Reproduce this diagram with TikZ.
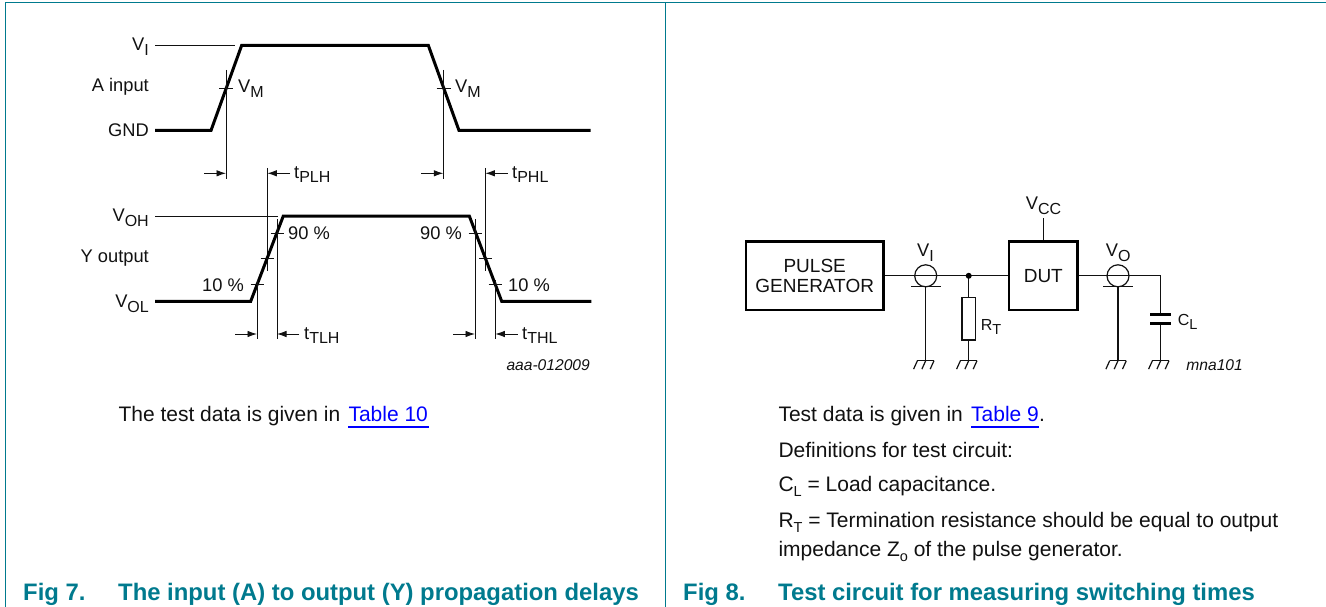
\documentclass[tikz,border=0pt]{standalone}
\usepackage{fontspec}
\setmainfont{Liberation Sans}
\usetikzlibrary{arrows.meta}
\definecolor{nxpteal}{HTML}{007A8E}
\definecolor{linkblue}{HTML}{0000FF}
\definecolor{inkc}{HTML}{111111}
\newcommand{\lsub}[1]{\raisebox{-4.5pt}{\fontsize{16}{16}\selectfont #1}}
\newcommand{\bsub}[1]{\raisebox{-4.5pt}{\fontsize{14.5}{14.5}\selectfont #1}}
\tikzset{
  x=1pt,y=-1pt,
  frameline/.style={draw=nxpteal,line width=1.2pt},
  thinl/.style={draw=inkc,line width=0.95pt},
  thickl/.style={draw=black,line width=3pt,line join=miter},
  dimarrow/.style={draw=inkc,line width=0.95pt,-{Latex[length=9.5pt,width=6.5pt]}},
  wire/.style={draw=inkc,line width=1.2pt},
  boxn/.style={draw=black,line width=2.6pt,inner sep=0pt,align=center,font=\fontsize{19}{20.6}\selectfont,text=inkc},
  lab/.style={inner sep=0pt,text=inkc,font=\fontsize{18.3}{20}\selectfont},
  labr/.style={lab,anchor=base east},
  labl/.style={lab,anchor=base west},
  codetxt/.style={inner sep=0pt,anchor=base east,text=inkc,font=\fontsize{15.6}{16}\selectfont\itshape},
  bodytxt/.style={inner sep=0pt,anchor=base west,text=inkc,font=\fontsize{21}{21}\selectfont},
  captxt/.style={inner sep=0pt,anchor=base west,text=nxpteal,font=\fontsize{23.85}{24}\selectfont\bfseries},
  probe/.style={circle,draw=inkc,line width=1.2pt,minimum size=22pt,inner sep=0pt},
  pics/gnd/.style={code={
    \draw[wire] (-8.3,0) -- (8.3,0);
    \foreach \q in {-8.3,0,8.3}{\draw[wire] (\q,0) -- ++(-3.8,8.4);}
  }}
}
\begin{document}
\begin{tikzpicture}
\useasboundingbox (0,0) rectangle (1326,607);
% frame
\coordinate (tl) at (5.3,2.7);
\coordinate (tr) at (1326,2.7);
\coordinate (tm) at (665.5,2.7);
\coordinate (bl) at (5.3,607);
\coordinate (bm) at (665.5,607);
\draw[frameline] (bl) -- (tl) -- (tr);
\draw[frameline] (tm) -- (bm);

% ---------- input waveform
\coordinate (i0) at (155,130.5);
\coordinate (i1) at (211,130.5);
\coordinate (i2) at (241.7,45.3);
\coordinate (i3) at (428.3,45.3);
\coordinate (i4) at (459,130.5);
\coordinate (i5) at (590.7,130.5);
\draw[thickl] (i0) -- (i1) -- (i2) -- (i3) -- (i4) -- (i5);
\coordinate (viA) at (155,45.3);
\coordinate (viB) at (234.5,45.3);
\draw[thinl] (viA) -- (viB);
\node[labr] (nVI) at (149,51) {V\lsub{I}};
\node[labr] (nA) at (149,92) {A input};
\node[labr] (nGND) at (149,136.5) {GND};
\node[labl] (nVM1) at (238,93) {V\lsub{M}};
\node[labl] (nVM2) at (455,93) {V\lsub{M}};
% input measures
\coordinate (a1t) at (226,70); \coordinate (a1b) at (226,178.7);
\draw[thinl] (a1t) -- (a1b);
\coordinate (a1l) at (219,88); \coordinate (a1r) at (233,88);
\draw[thinl] (a1l) -- (a1r);
\coordinate (a2t) at (443.3,70); \coordinate (a2b) at (443.3,178.7);
\draw[thinl] (a2t) -- (a2b);
\coordinate (a2l) at (436.7,88); \coordinate (a2r) at (450.7,88);
\draw[thinl] (a2l) -- (a2r);
\coordinate (p1t) at (267.3,168); \coordinate (p1b) at (267.3,271);
\draw[thinl] (p1t) -- (p1b);
\coordinate (p2t) at (485.3,168); \coordinate (p2b) at (485.3,271);
\draw[thinl] (p2t) -- (p2b);
\coordinate (d1s) at (204,173.3); \coordinate (d1e) at (226,173.3);
\draw[dimarrow] (d1s) -- (d1e);
\coordinate (d2s) at (290,173.3); \coordinate (d2e) at (267.3,173.3);
\draw[dimarrow] (d2s) -- (d2e);
\coordinate (d3s) at (421,173.3); \coordinate (d3e) at (443.3,173.3);
\draw[dimarrow] (d3s) -- (d3e);
\coordinate (d4s) at (507.7,173.3); \coordinate (d4e) at (485.3,173.3);
\draw[dimarrow] (d4s) -- (d4e);
\node[labl] (ntPLH) at (294,178.5) {t\lsub{PLH}};
\node[labl] (ntPHL) at (512,178.5) {t\lsub{PHL}};

% ---------- output waveform
\coordinate (o0) at (155,301.3);
\coordinate (o1) at (250.7,301.3);
\coordinate (o2) at (283.3,216);
\coordinate (o3) at (469.3,216);
\coordinate (o4) at (501.7,301.3);
\coordinate (o5) at (591.3,301.3);
\draw[thickl] (o0) -- (o1) -- (o2) -- (o3) -- (o4) -- (o5);
\coordinate (vohA) at (155,216);
\coordinate (vohB) at (278,216);
\draw[thinl] (vohA) -- (vohB);
\node[labr] (nVOH) at (149,222) {V\lsub{OH}};
\node[labr] (nY) at (149,262) {Y output};
\node[labr] (nVOL) at (149,307.5) {V\lsub{OL}};
\node[labl] (n90a) at (288,239.5) {90 \%};
\node[labr] (n90b) at (462,239.5) {90 \%};
\node[labr] (n10a) at (244,291) {10 \%};
\node[labl] (n10b) at (508,291) {10 \%};
% rising measures
\coordinate (r9t) at (277,219); \coordinate (r9b) at (277,339);
\draw[thinl] (r9t) -- (r9b);
\coordinate (r1t) at (257,280); \coordinate (r1b) at (257,339);
\draw[thinl] (r1t) -- (r1b);
\coordinate (t1l) at (270.7,233.3); \coordinate (t1r) at (284,233.3);
\draw[thinl] (t1l) -- (t1r);
\coordinate (t2l) at (260.7,258.3); \coordinate (t2r) at (274,258.3);
\draw[thinl] (t2l) -- (t2r);
\coordinate (t3l) at (250.7,284.7); \coordinate (t3r) at (264,284.7);
\draw[thinl] (t3l) -- (t3r);
% falling measures
\coordinate (f9t) at (475,219); \coordinate (f9b) at (475,339);
\draw[thinl] (f9t) -- (f9b);
\coordinate (f1t) at (495.3,280); \coordinate (f1b) at (495.3,339);
\draw[thinl] (f1t) -- (f1b);
\coordinate (t4l) at (468.7,233.3); \coordinate (t4r) at (482,233.3);
\draw[thinl] (t4l) -- (t4r);
\coordinate (t5l) at (479,258.3); \coordinate (t5r) at (492.3,258.3);
\draw[thinl] (t5l) -- (t5r);
\coordinate (t6l) at (488.7,284.7); \coordinate (t6r) at (502,284.7);
\draw[thinl] (t6l) -- (t6r);
\coordinate (e1s) at (235,334); \coordinate (e1e) at (257,334);
\draw[dimarrow] (e1s) -- (e1e);
\coordinate (e2s) at (299.3,334); \coordinate (e2e) at (277,334);
\draw[dimarrow] (e2s) -- (e2e);
\coordinate (e3s) at (453.3,334); \coordinate (e3e) at (475,334);
\draw[dimarrow] (e3s) -- (e3e);
\coordinate (e4s) at (517.7,334); \coordinate (e4e) at (495.3,334);
\draw[dimarrow] (e4s) -- (e4e);
\node[labl] (ntTLH) at (304,339) {t\lsub{TLH}};
\node[labl] (ntTHL) at (522,339) {t\lsub{THL}};
\node[codetxt] (ncode1) at (590,370) {aaa-012009};

% ---------- left text
\node[bodytxt] (ltext) at (118.3,421.7) {The test data is given in};
\node[bodytxt,text=linkblue] (llink) at (348.3,421.7) {Table 10};
\coordinate (lu1) at (348.3,427); \coordinate (lu2) at (429,427);
\draw[draw=linkblue,line width=1.3pt] (lu1) -- (lu2);
\node[captxt] (fig7) at (23,600.4) {Fig 7.};
\node[captxt] (fig7t) at (118,600.4) {The input (A) to output (Y) propagation delays};

% ---------- circuit
\node[boxn,minimum width=137.3pt,minimum height=68.3pt] (pg) at (814.7,275.8) {PULSE\\GENERATOR};
\node[boxn,minimum width=68.7pt,minimum height=68.3pt] (dut) at (1043.3,275.8) {DUT};
\node[probe] (pi) at (925.7,275.8) {};
\node[probe] (po) at (1118,275.8) {};
\coordinate (j) at (968.7,275.8);
\coordinate (vcc) at (1043.3,217.7);
\coordinate (capn) at (1160.7,275.8);
\coordinate (bi) at (925.7,286.4);
\coordinate (bo) at (1118,286.4);
\coordinate (bil) at (911,286.4); \coordinate (bir) at (940.7,286.4);
\coordinate (bol) at (1103.3,286.4); \coordinate (bor) at (1132.7,286.4);
\coordinate (g1) at (925.7,360.7);
\coordinate (g2) at (968.7,360.7);
\coordinate (g3) at (1118,360.7);
\coordinate (g4) at (1160.7,360.7);
\node[draw=inkc,line width=1.2pt,minimum width=13.3pt,minimum height=42.7pt,inner sep=0pt] (rt) at (968.7,318.7) {};
\coordinate (c1) at (1160.7,314);
\coordinate (c2) at (1160.7,323);
\coordinate (c1l) at (1150,314); \coordinate (c1r) at (1171.3,314);
\coordinate (c2l) at (1150,323); \coordinate (c2r) at (1171.3,323);
\draw[wire] (pg.east) -- (pi.center) -- (j) -- (dut.west);
\draw[wire] (dut.east) -- (po.center) -- (capn) -- (c1);
\draw[wire] (c2) -- (g4);
\draw[wire] (dut.north) -- (vcc);
\draw[wire] (j) -- (rt.north);
\draw[wire] (rt.south) -- (g2);
\draw[wire] (bi) -- (g1);
\draw[wire] (bo) -- (g3);
\draw[wire] (bil) -- (bir);
\draw[wire] (bol) -- (bor);
\draw[draw=black,line width=3pt] (c1l) -- (c1r);
\draw[draw=black,line width=3pt] (c2l) -- (c2r);
\fill[black] (j) circle (3);
\pic at (g1) {gnd};
\pic at (g2) {gnd};
\pic at (g3) {gnd};
\pic at (g4) {gnd};
\node[labl] (nVIc) at (917,256.7) {V\lsub{I}};
\node[labl] (nVO) at (1105.7,256.7) {V\lsub{O}};
\node[labl] (nVCC) at (1025.7,210) {V\lsub{CC}};
\node[labl,font=\fontsize{16}{16}\selectfont] (nRT) at (980.7,330.7) {R\raisebox{-4pt}{\fontsize{14.5}{14.5}\selectfont T}};
\node[labl,font=\fontsize{16}{16}\selectfont] (nCL) at (1177.7,325) {C\raisebox{-4pt}{\fontsize{14.5}{14.5}\selectfont L}};
\node[codetxt] (ncode2) at (1243,370) {mna101};

% ---------- right text
\node[bodytxt] (rt1) at (778.3,421.7) {Test data is given in};
\node[bodytxt,text=linkblue] (rlink) at (971,421.7) {Table 9};
\node[bodytxt] (rdot) at (1039,421.7) {.};
\coordinate (ru1) at (971,427); \coordinate (ru2) at (1039,427);
\draw[draw=linkblue,line width=1.3pt] (ru1) -- (ru2);
\node[bodytxt] (rt2) at (778.3,457) {Definitions for test circuit:};
\node[bodytxt] (rt3) at (778.3,491.7) {C\bsub{L} = Load capacitance.};
\node[bodytxt] (rt4) at (778.3,527.7) {R\bsub{T} = Termination resistance should be equal to output};
\node[bodytxt] (rt5) at (778.3,556.7) {impedance Z\bsub{o} of the pulse generator.};
\node[captxt] (fig8) at (683,600.4) {Fig 8.};
\node[captxt] (fig8t) at (778,600.4) {Test circuit for measuring switching times};
\end{tikzpicture}
\end{document}
